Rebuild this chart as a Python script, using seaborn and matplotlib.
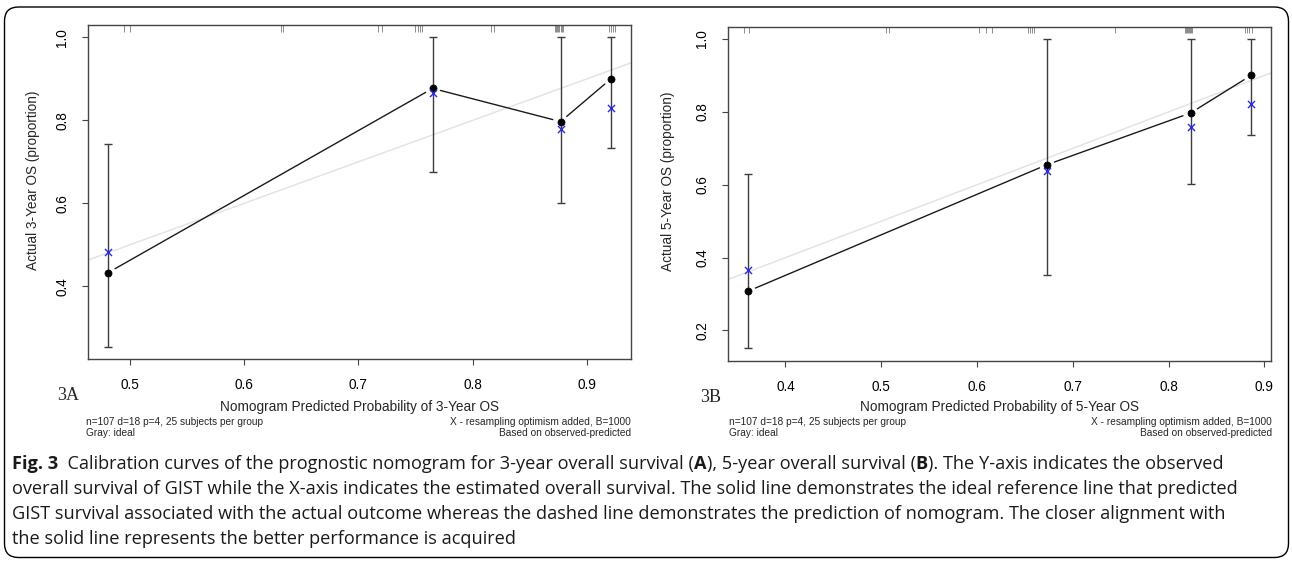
import numpy as np
import matplotlib
matplotlib.use("Agg")
import matplotlib.pyplot as plt
import seaborn as sns
from matplotlib.patches import FancyBboxPatch
from matplotlib.transforms import IdentityTransform
from matplotlib.font_manager import FontProperties, fontManager

# ---------------- data: panel A (3-year OS) ----------------
pred_3y = [0.481, 0.765, 0.877, 0.921]
obs_3y = [0.433, 0.877, 0.797, 0.900]
corr_3y = [0.483, 0.866, 0.779, 0.831]
lo_3y = [0.254, 0.675, 0.602, 0.733]
hi_3y = [0.744, 1.000, 1.000, 1.000]
rug_3y = [0.4946, 0.5005, 0.632, 0.634, 0.717, 0.7205, 0.750, 0.752, 0.754, 0.756,
          0.816, 0.819, 0.872, 0.873, 0.874, 0.875, 0.876, 0.877, 0.878, 0.879,
          0.919, 0.921, 0.923, 0.925]
xticks_3y = [0.5, 0.6, 0.7, 0.8, 0.9]
yticks_3y = [0.4, 0.6, 0.8, 1.0]

# ---------------- data: panel B (5-year OS) ----------------
pred_5y = [0.361, 0.673, 0.823, 0.886]
obs_5y = [0.308, 0.655, 0.797, 0.900]
corr_5y = [0.367, 0.638, 0.758, 0.823]
lo_5y = [0.151, 0.351, 0.601, 0.737]
hi_5y = [0.629, 1.000, 1.000, 1.000]
rug_5y = [0.357, 0.362, 0.505, 0.508, 0.602, 0.609, 0.616, 0.653, 0.655, 0.657, 0.660,
          0.744, 0.817, 0.818, 0.819, 0.820, 0.821, 0.822, 0.823, 0.824,
          0.880, 0.882, 0.884, 0.887]
xticks_5y = [0.4, 0.5, 0.6, 0.7, 0.8, 0.9]
yticks_5y = [0.2, 0.4, 0.6, 0.8, 1.0]

note_left = ["n=107 d=18 p=4, 25 subjects per group", "Gray: ideal"]
note_right = ["X - resampling optimism added, B=1000", "Based on observed-predicted"]

caption_lines = [
    [("Fig. 3", "bold"), ("  Calibration curves of the prognostic nomogram for 3-year overall survival (", "normal"),
     ("A", "bold"), ("), 5-year overall survival (", "normal"), ("B", "bold"),
     ("). The Y-axis indicates the observed", "normal")],
    [("overall survival of GIST while the X-axis indicates the estimated overall survival. The solid line demonstrates the ideal reference line that predicted", "normal")],
    [("GIST survival associated with the actual outcome whereas the dashed line demonstrates the prediction of nomogram. The closer alignment with", "normal")],
    [("the solid line represents the better performance is acquired", "normal")],
]

W, H = 1292, 563

sns.set_theme(style="ticks")
plt.rcParams['font.family'] = ['Liberation Sans', 'DejaVu Sans']

fig = plt.figure(figsize=(W / 100, H / 100), dpi=100)
fig.patch.set_facecolor('white')


def fx(x):
    return x / W


def fy(y):
    return 1 - y / H


axA = fig.add_axes([fx(88), fy(359.3), fx(631) - fx(88), fy(25) - fy(359.3)])
axB = fig.add_axes([fx(728), fy(360.7), fx(1271) - fx(728), fy(26.7) - fy(360.7)])


def draw_panel(ax, pred, obs, corr, lo, hi, rug, xticks, yticks):
    pred = np.asarray(pred); obs = np.asarray(obs); corr = np.asarray(corr)
    lo = np.asarray(lo); hi = np.asarray(hi)
    rx = pred.max() - pred.min()
    ry = hi.max() - lo.min()
    ax.set_xlim(pred.min() - 0.04 * rx, pred.max() + 0.04 * rx)
    ax.set_ylim(lo.min() - 0.04 * ry, hi.max() + 0.04 * ry)
    ax.set_facecolor('white')
    # ideal line
    ax.axline((0, 0), slope=1, color='#e2e2e2', lw=1.0, zorder=1)
    # error bars
    ax.errorbar(pred, obs, yerr=[obs - lo, hi - obs], fmt='none', ecolor='#3c3c3c',
                elinewidth=1.0, capsize=3.2, capthick=1.0, zorder=2)
    # connecting line with gaps around points (R type "b")
    pts = ax.transData.transform(np.column_stack([pred, obs]))
    inv = ax.transData.inverted()
    gap = 8.0
    for p0, p1 in zip(pts[:-1], pts[1:]):
        d = p1 - p0
        u = d / np.hypot(*d)
        seg = inv.transform(np.vstack([p0 + u * gap, p1 - u * gap]))
        ax.plot(seg[:, 0], seg[:, 1], color='#1a1a1a', lw=1.0, zorder=3)
    sns.scatterplot(x=pred, y=obs, color='black', s=26, edgecolor='black', linewidth=0.5,
                    ax=ax, zorder=5, legend=False)
    sns.scatterplot(x=pred, y=corr, marker='x', color='#2a2ae8', s=26, linewidth=1.0,
                    ax=ax, zorder=6, legend=False)
    # rug of predicted values along the top
    ax.vlines(rug, 0.98, 1.0, transform=ax.get_xaxis_transform(), color='#8c8c8c', lw=0.7, zorder=1)
    ax.set_xticks(xticks)
    ax.set_xticklabels([f"{t:.1f}" for t in xticks])
    ax.set_yticks(yticks)
    ax.set_yticklabels([f"{t:.1f}" for t in yticks], rotation=90, va='center')
    ax.tick_params(direction='out', length=4.6, width=0.8, color='#444444', labelsize=9.8,
                   pad=9, labelcolor='black')
    for s in ax.spines.values():
        s.set_visible(True)
        s.set_color('#444444')
        s.set_linewidth(1.0)
    ax.set_xlabel('')
    ax.set_ylabel('')
    ax.grid(False)


draw_panel(axA, pred_3y, obs_3y, corr_3y, lo_3y, hi_3y, rug_3y, xticks_3y, yticks_3y)
draw_panel(axB, pred_5y, obs_5y, corr_5y, lo_5y, hi_5y, rug_5y, xticks_5y, yticks_5y)

# axis titles
fig.text(fx(359.5), fy(406.7), "Nomogram Predicted Probability of 3-Year OS", ha='center', va='center', fontsize=9.8)
fig.text(fx(999.5), fy(407.3), "Nomogram Predicted Probability of 5-Year OS", ha='center', va='center', fontsize=9.8)
fig.text(fx(33), fy(180), "Actual 3-Year OS (proportion)", ha='center', va='center', rotation=90, fontsize=9.8)
fig.text(fx(668), fy(181), "Actual 5-Year OS (proportion)", ha='center', va='center', rotation=90, fontsize=9.8)

# panel tags
fig.text(fx(57), fy(395), "3A", ha='left', va='center', fontsize=13, family=['Liberation Serif', 'DejaVu Serif'])
fig.text(fx(700), fy(397), "3B", ha='left', va='center', fontsize=13, family=['Liberation Serif', 'DejaVu Serif'])

# footnotes
for x0, x1 in [(86, 631), (729, 1272)]:
    for i, yy in enumerate([421.7, 433.3]):
        fig.text(fx(x0), fy(yy), note_left[i], ha='left', va='center', fontsize=7.3)
        fig.text(fx(x1), fy(yy), note_right[i], ha='right', va='center', fontsize=7.3)

# caption
cap_family = 'Open Sans'
try:
    fontManager.findfont(FontProperties(family=cap_family), fallback_to_default=False)
except Exception:
    cap_family = 'DejaVu Sans'

renderer = fig.canvas.get_renderer()


def run_width(s, size, weight):
    t1 = fig.text(0, 0, s + "|", fontsize=size, weight=weight, family=cap_family)
    t2 = fig.text(0, 0, "|", fontsize=size, weight=weight, family=cap_family)
    w = t1.get_window_extent(renderer).width - t2.get_window_extent(renderer).width
    t1.remove(); t2.remove()
    return w


base = 10.0
w1 = sum(run_width(s, base, wt) for s, wt in caption_lines[0])
cap_x0, cap_x1 = 12.0, 1222.0
cap_size = base * (cap_x1 - cap_x0) / w1

cap_ys = [469, 494, 519, 544]
for line, yb in zip(caption_lines, cap_ys):
    x = cap_x0
    for s, wt in line:
        fig.text(fx(x), fy(yb), s, ha='left', va='baseline', fontsize=cap_size, weight=wt,
                 family=cap_family, color='#1a1a1a')
        x += run_width(s, cap_size, wt)

# rounded border around the whole figure
border = FancyBboxPatch((4.5, 5.5), 1284.0, 550.5, boxstyle="round,pad=0,rounding_size=14",
                        transform=IdentityTransform(), fill=False, edgecolor='black', lw=1.0)
fig.add_artist(border)

fig.savefig("out.png", dpi=100, facecolor='white')
